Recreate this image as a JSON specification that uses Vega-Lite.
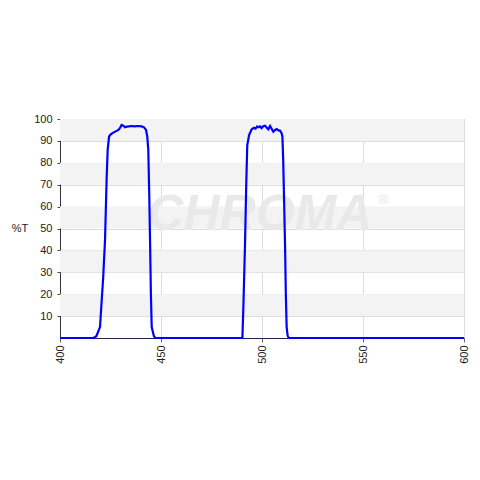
{
  "$schema": "https://vega.github.io/schema/vega-lite/v6.json",
  "autosize": "none",
  "width": 404,
  "height": 219,
  "padding": {"left": 60, "top": 119, "right": 16, "bottom": 142},
  "background": "white",
  "config": {
    "font": "Liberation Sans",
    "view": {"stroke": "#cccccc", "fill": "white"},
    "axis": {"labelFont": "Liberation Sans", "titleFont": "Liberation Sans", "labelFontSize": 11, "labelColor": "#222222", "titleColor": "#222222", "labelOverlap": false}
  },
  "datasets": {
    "bands": [
      {"lo": 10, "hi": 20}, {"lo": 30, "hi": 40}, {"lo": 50, "hi": 60}, {"lo": 70, "hi": 80}, {"lo": 90, "hi": 100}
    ],
    "spectrum": [
      {"wl": 400, "t": 0}, {"wl": 416.5, "t": 0}, {"wl": 418, "t": 0.8}, {"wl": 419.8, "t": 5},
      {"wl": 421.4, "t": 28}, {"wl": 422.3, "t": 45}, {"wl": 423.1, "t": 73}, {"wl": 423.6, "t": 86},
      {"wl": 424.3, "t": 92}, {"wl": 425.1, "t": 93}, {"wl": 426.4, "t": 93.8}, {"wl": 428.9, "t": 95},
      {"wl": 429.8, "t": 96}, {"wl": 430.5, "t": 97.3}, {"wl": 431.3, "t": 97}, {"wl": 432.2, "t": 96.2},
      {"wl": 433, "t": 96.5}, {"wl": 434, "t": 96.6}, {"wl": 435.5, "t": 96.8}, {"wl": 437, "t": 96.6},
      {"wl": 438.5, "t": 96.8}, {"wl": 440.4, "t": 96.6}, {"wl": 441.6, "t": 96.2}, {"wl": 442.6, "t": 95},
      {"wl": 443.2, "t": 92}, {"wl": 443.7, "t": 86}, {"wl": 444.2, "t": 65}, {"wl": 444.6, "t": 43},
      {"wl": 445, "t": 20}, {"wl": 445.4, "t": 5}, {"wl": 446.5, "t": 0.8}, {"wl": 447.2, "t": 0},
      {"wl": 490.3, "t": 0}, {"wl": 490.8, "t": 15}, {"wl": 491.6, "t": 43}, {"wl": 492.2, "t": 70},
      {"wl": 492.7, "t": 88}, {"wl": 493.6, "t": 92.7}, {"wl": 494.9, "t": 95.3}, {"wl": 496, "t": 96},
      {"wl": 496.8, "t": 95.6}, {"wl": 497.6, "t": 96.6}, {"wl": 498.2, "t": 96.2}, {"wl": 499, "t": 96.6},
      {"wl": 499.8, "t": 95.8}, {"wl": 500.6, "t": 96.7}, {"wl": 501.5, "t": 96.9}, {"wl": 502.4, "t": 96},
      {"wl": 503.1, "t": 95.3}, {"wl": 504, "t": 96.8}, {"wl": 504.8, "t": 95.5}, {"wl": 505.6, "t": 94.2},
      {"wl": 506.5, "t": 95}, {"wl": 507.3, "t": 95.4}, {"wl": 508.2, "t": 94.8}, {"wl": 508.9, "t": 94.7},
      {"wl": 509.7, "t": 93.5}, {"wl": 510.1, "t": 92}, {"wl": 510.5, "t": 81}, {"wl": 511, "t": 60},
      {"wl": 511.4, "t": 43}, {"wl": 511.8, "t": 20}, {"wl": 512.2, "t": 5}, {"wl": 512.7, "t": 1},
      {"wl": 513.2, "t": 0}, {"wl": 600, "t": 0}
    ],
    "mark": [
      {"wl": 499, "t": 56, "label": "CHROMA"}
    ],
    "reg": [
      {"wl": 560, "t": 63, "label": "®"}
    ]
  },
  "layer": [
    {
      "data": {"name": "bands"},
      "mark": {"type": "rect", "fill": "#f3f3f3"},
      "encoding": {
        "y": {
          "field": "lo", "type": "quantitative", "scale": {"domain": [0, 100], "nice": false},
          "axis": {
            "title": "%T", "titleAngle": 0, "titleAlign": "right", "titleBaseline": "middle",
            "titleFontWeight": "normal", "titleFontSize": 11, "titlePadding": 6,
            "values": [10, 20, 30, 40, 50, 60, 70, 80, 90, 100], "tickCount": 11, "labelOverlap": false,
            "labelPadding": 5, "tickSize": 3, "tickColor": "#444444",
            "domainColor": "#333333",
            "grid": true, "gridColor": "#dddddd"
          }
        },
        "y2": {"field": "hi"}
      }
    },
    {
      "data": {"name": "mark"},
      "mark": {"type": "text", "font": "Liberation Sans", "fontSize": 50, "fontWeight": "bold", "fontStyle": "italic", "fill": "#e9e9e9", "align": "center", "baseline": "middle"},
      "encoding": {
        "x": {"field": "wl", "type": "quantitative", "scale": {"domain": [400, 600], "nice": false, "zero": false}},
        "y": {"field": "t", "type": "quantitative", "scale": {"domain": [0, 100], "nice": false}},
        "text": {"field": "label"}
      }
    },
    {
      "data": {"name": "reg"},
      "mark": {"type": "text", "font": "Liberation Sans", "fontSize": 13, "fill": "#e6e6e6", "align": "center", "baseline": "middle"},
      "encoding": {
        "x": {"field": "wl", "type": "quantitative", "scale": {"domain": [400, 600], "nice": false, "zero": false}},
        "y": {"field": "t", "type": "quantitative", "scale": {"domain": [0, 100], "nice": false}},
        "text": {"field": "label"}
      }
    },
    {
      "data": {"name": "spectrum"},
      "mark": {"type": "line", "color": "#0000ff", "strokeWidth": 2.2, "interpolate": "linear"},
      "encoding": {
        "x": {
          "field": "wl", "type": "quantitative",
          "scale": {"domain": [400, 600], "nice": false, "zero": false},
          "axis": {
            "title": null, "values": [400, 450, 500, 550, 600], "tickCount": 5,
            "labelAngle": 270, "labelAlign": "right", "labelBaseline": "middle",
            "labelPadding": 3, "tickSize": 4, "tickColor": "#666666",
            "domainColor": "#222244", "domainWidth": 1.2,
            "grid": true, "gridColor": "#dddddd"
          }
        },
        "y": {
          "field": "t", "type": "quantitative",
          "scale": {"domain": [0, 100], "nice": false},
          "axis": {
            "title": "%T", "titleAngle": 0, "titleAlign": "right", "titleBaseline": "middle",
            "titleFontWeight": "normal", "titleFontSize": 11, "titlePadding": 6,
            "values": [10, 20, 30, 40, 50, 60, 70, 80, 90, 100], "tickCount": 11, "labelOverlap": false,
            "labelPadding": 5, "tickSize": 3, "tickColor": "#444444",
            "domainColor": "#333333",
            "grid": true, "gridColor": "#dddddd"
          }
        }
      }
    }
  ]
}
